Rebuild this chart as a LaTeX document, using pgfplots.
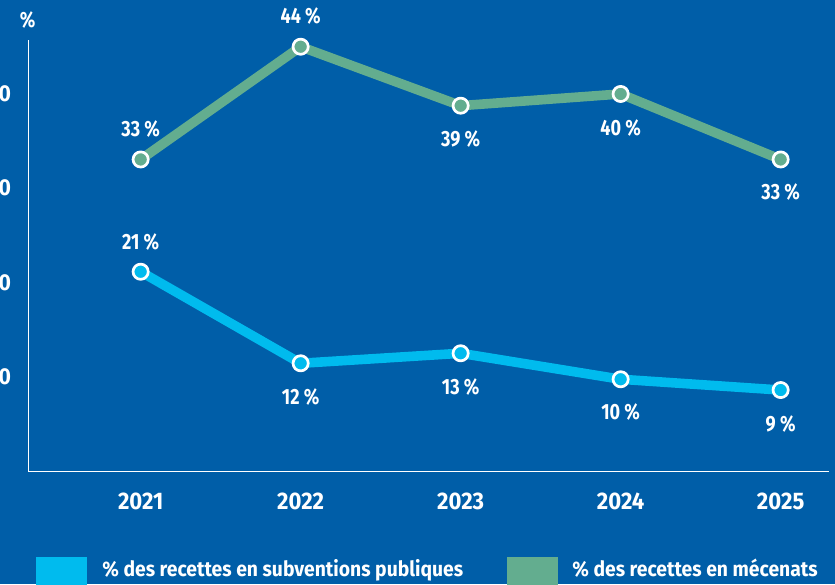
\documentclass[border=0pt]{standalone}
\usepackage{pgfplots}
\pgfplotsset{compat=1.18}
\usepackage{pgfplotstable}
\usepackage{fontspec}
\setmainfont{Fira Sans}[FakeStretch=0.92]
\newfontfamily\labfont{Fira Sans}[FakeStretch=0.82]
\definecolor{bg}{RGB}{0,94,168}
\definecolor{cyanc}{RGB}{0,187,238}
\definecolor{greenc}{RGB}{99,173,143}
\pgfplotstableread{
x y lab dy
2021 21.14 21 15
2022 11.45 12 -17
2023 12.51 13 -17
2024 9.76 10 -16.5
2025 8.62 9 -17
}\pub
\pgfplotstableread{
x y lab dy
2021 33.02 33 15
2022 44.95 44 15.5
2023 38.71 39 -16.5
2024 39.95 40 -17
2025 33.02 33 -16.5
}\mec
\begin{document}
\begin{tikzpicture}
\fill[bg] (0,0) rectangle (417.5pt,-292pt);
\begin{axis}[
  at={(14.25pt,-235.75pt)}, anchor=south west,
  scale only axis, width=400pt, height=215.75pt,
  xmin=2020.299, xmax=2025.299, ymin=0, ymax=45.66,
  axis x line=bottom, axis y line=left,
  axis line style={white, line width=0.75pt, -},
  xtick={2021,2022,2023,2024,2025},
  xticklabels={2021,2022,2023,2024,2025},
  ytick={10,20,30,40},
  yticklabels={10,20,30,40},
  major tick length=0pt,
  /pgf/number format/assume math mode=true,
  xticklabel style={anchor=center, yshift=-14.75pt, inner sep=0pt, text=white,
    font=\fontsize{12}{14}\selectfont\bfseries},
  yticklabel style={anchor=east, xshift=-8.5pt, inner sep=0pt, text=white,
    font=\fontsize{11.5}{13}\selectfont\bfseries},
  clip=false,
]
\addplot[line width=4.8pt, color=cyanc, line join=round,
  mark=*, mark size=3.8pt, mark options={draw=white, fill=cyanc, line width=1.35pt},
  point meta=explicit symbolic,
  nodes near coords={\pgfplotspointmeta\ \%},
  visualization depends on={\thisrow{dy} \as \dy},
  every node near coord/.append style={anchor=center, yshift=\dy pt, inner sep=0pt,
    text=white, font=\labfont\fontsize{11}{13}\selectfont\bfseries}]
  table[x=x, y=y, meta=lab]{\pub};
\addplot[line width=4.8pt, color=greenc, line join=round,
  mark=*, mark size=3.8pt, mark options={draw=white, fill=greenc, line width=1.35pt},
  point meta=explicit symbolic,
  nodes near coords={\pgfplotspointmeta\ \%},
  visualization depends on={\thisrow{dy} \as \dy},
  every node near coord/.append style={anchor=center, yshift=\dy pt, inner sep=0pt,
    text=white, font=\labfont\fontsize{11}{13}\selectfont\bfseries}]
  table[x=x, y=y, meta=lab]{\mec};
\end{axis}
\node[anchor=center, inner sep=0pt, text=white, font=\labfont\fontsize{11}{13}\selectfont\bfseries] at (13.85pt,-10pt) {\%};
\fill[cyanc] (18pt,-278.5pt) rectangle (43.5pt,-300pt);
\node[anchor=base west, inner sep=0pt, text=white, font=\fontsize{10.5}{12}\selectfont\bfseries] at (51pt,-288.3pt) {\% des recettes en subventions publiques};
\fill[greenc] (253.5pt,-278.5pt) rectangle (279pt,-300pt);
\node[anchor=base west, inner sep=0pt, text=white, font=\fontsize{10.5}{12}\selectfont\bfseries] at (286pt,-288.3pt) {\% des recettes en mécenats};
\pgfresetboundingbox
\path[use as bounding box] (0,0) rectangle (417.5pt,-292pt);
\end{tikzpicture}
\end{document}
